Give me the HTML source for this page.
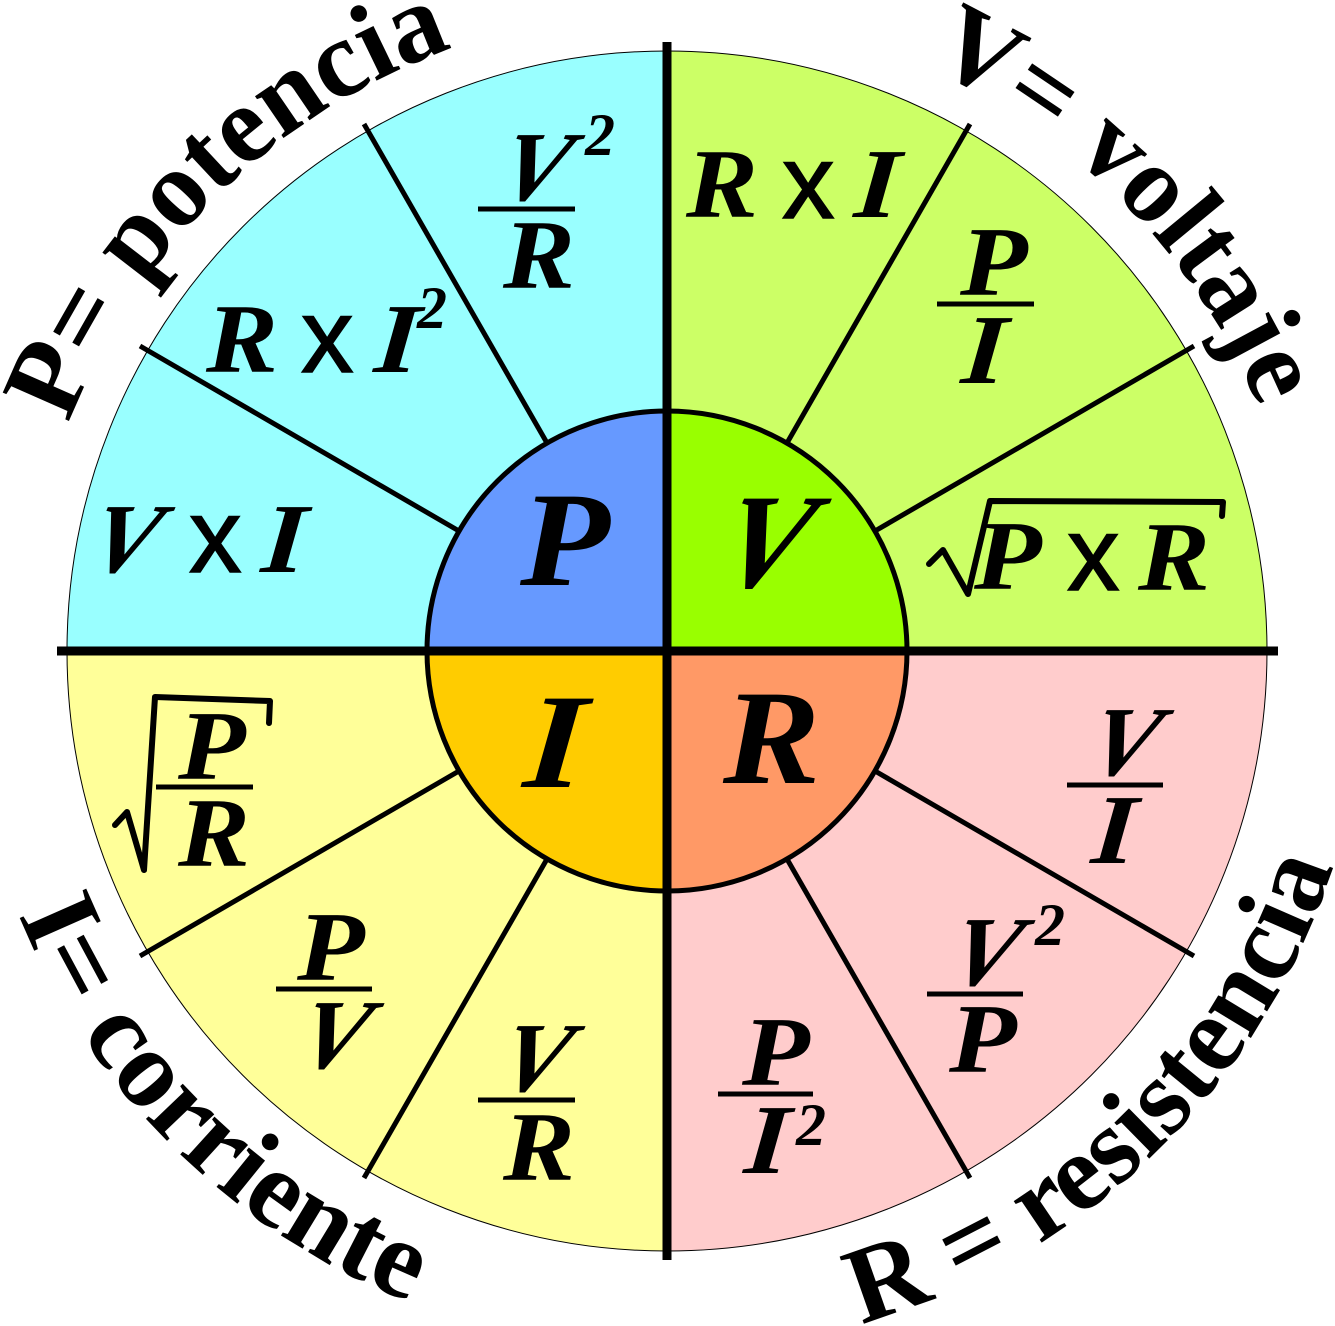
<!DOCTYPE html>
<html><head><meta charset="utf-8"><style>
html,body{margin:0;padding:0;background:#fff;width:1335px;height:1326px;overflow:hidden}
svg{display:block}
.f{font-family:"Liberation Serif",serif;font-weight:bold;font-style:italic;font-size:99px;fill:#000}
.s{font-family:"Liberation Serif",serif;font-weight:bold;font-style:italic;font-size:60px;fill:#000}
.b{font-family:"Liberation Serif",serif;font-weight:bold;font-style:italic;font-size:135px;fill:#000}
.x{font-family:"Liberation Sans",sans-serif;font-size:105px;fill:#000;stroke:#000;stroke-width:1.5}
.c{font-family:"Liberation Serif",serif;font-weight:bold;font-size:110px;fill:#000}
</style></head><body>
<svg width="1335" height="1326" viewBox="0 0 1335 1326" xmlns="http://www.w3.org/2000/svg">
<defs>
<path id="botL" d="M -33 651 A 700 700 0 0 0 667 1351" fill="none"/>
<path id="botR" d="M 667 1351 A 700 700 0 0 0 1367 651" fill="none"/>
<path id="tl" d="M 27 651 A 640 640 0 0 1 667 11" fill="none"/>
<path id="tr" d="M 667 11 A 640 640 0 0 1 1307 651" fill="none"/>
</defs>
<path d="M667 651 L67 651 A600 600 0 0 1 667 51 Z" fill="#99ffff"/>
<path d="M667 651 L667 51 A600 600 0 0 1 1267 651 Z" fill="#ccff66"/>
<path d="M667 651 L1267 651 A600 600 0 0 1 667 1251 Z" fill="#ffcccc"/>
<path d="M667 651 L667 1251 A600 600 0 0 1 67 651 Z" fill="#ffff99"/>
<circle cx="667" cy="651" r="600" fill="none" stroke="#000" stroke-width="1"/>
<g stroke="#000" stroke-width="5" fill="none">
<line x1="547" y1="443" x2="364" y2="124"/>
<line x1="459" y1="531" x2="140" y2="346"/>
<line x1="787" y1="443" x2="970" y2="124"/>
<line x1="875" y1="531" x2="1194" y2="346"/>
<line x1="459" y1="771" x2="140" y2="956"/>
<line x1="547" y1="859" x2="364" y2="1178"/>
<line x1="875" y1="771" x2="1194" y2="956"/>
<line x1="787" y1="859" x2="970" y2="1178"/>
</g>
<path d="M667 651 L427 651 A240 240 0 0 1 667 411 Z" fill="#6699ff"/>
<path d="M667 651 L667 411 A240 240 0 0 1 907 651 Z" fill="#99ff00"/>
<path d="M667 651 L907 651 A240 240 0 0 1 667 891 Z" fill="#ff9966"/>
<path d="M667 651 L667 891 A240 240 0 0 1 427 651 Z" fill="#ffcc00"/>
<circle cx="667" cy="651" r="240" fill="none" stroke="#000" stroke-width="5"/>
<line x1="667" y1="42" x2="667" y2="1260" stroke="#000" stroke-width="9"/>
<line x1="57" y1="651" x2="1278" y2="651" stroke="#000" stroke-width="9"/>

<text class="b" transform="translate(520 585) scale(1.09 1)">P</text>
<text class="b" transform="translate(712 587) skewX(-15) scale(.97 1)">V</text>
<text class="b" transform="translate(522 787) skewX(-4.5) scale(1.15 1)">I</text>
<text class="b" transform="translate(723 783) scale(1.08 1)">R</text>

<!-- P quadrant -->
<text class="f" transform="translate(494 200) skewX(-15) scale(1.02 1)">V</text><text class="s" x="585" y="155">2</text>
<line x1="478" y1="209" x2="575" y2="209" stroke="#000" stroke-width="5"/>
<text class="f" transform="translate(503 288) scale(1.09 1)">R</text>
<text class="f" transform="translate(206 372) scale(1.09 1)">R</text><text class="x" x="301" y="372">x</text><text class="f" transform="translate(373 372) skewX(-4.5) scale(1.15 1)">I</text><text class="s" x="417" y="328">2</text>
<text class="f" transform="translate(84 572) skewX(-15) scale(1.02 1)">V</text><text class="x" x="189" y="572">x</text><text class="f" transform="translate(260 572) skewX(-4.5) scale(1.15 1)">I</text>

<!-- V quadrant -->
<text class="f" transform="translate(686 217) scale(1.09 1)">R</text><text class="x" x="782" y="218">x</text><text class="f" transform="translate(853 217) skewX(-4.5) scale(1.15 1)">I</text>
<text class="f" transform="translate(960 295) scale(1.12 1)">P</text>
<line x1="937" y1="304" x2="1034" y2="304" stroke="#000" stroke-width="5"/>
<text class="f" transform="translate(960 383) skewX(-4.5) scale(1.15 1)">I</text>
<polyline points="929,564 943,550 968,594 990,501 1223,502 1222,516" fill="none" stroke="#000" stroke-width="6" stroke-linecap="round" stroke-linejoin="round"/>
<text class="f" transform="translate(974 589) scale(1.12 1)">P</text><text class="x" x="1067" y="590">x</text><text class="f" transform="translate(1138 590) scale(1.09 1)">R</text>

<!-- R quadrant -->
<text class="f" transform="translate(1083 775) skewX(-15) scale(1.02 1)">V</text>
<line x1="1067" y1="785" x2="1163" y2="785" stroke="#000" stroke-width="5"/>
<text class="f" transform="translate(1090 863) skewX(-4.5) scale(1.15 1)">I</text>
<text class="f" transform="translate(944 985) skewX(-15) scale(1.02 1)">V</text><text class="s" x="1035" y="945">2</text>
<line x1="927" y1="994" x2="1023" y2="994" stroke="#000" stroke-width="5"/>
<text class="f" transform="translate(949 1072) scale(1.12 1)">P</text>
<text class="f" transform="translate(742 1085) scale(1.12 1)">P</text>
<line x1="718" y1="1094" x2="813" y2="1094" stroke="#000" stroke-width="5"/>
<text class="f" transform="translate(743 1173) skewX(-4.5) scale(1.15 1)">I</text><text class="s" x="796" y="1145">2</text>

<!-- I quadrant -->
<polyline points="115,825 127,812 144,870 155,697 270,701 269,723" fill="none" stroke="#000" stroke-width="6" stroke-linecap="round" stroke-linejoin="round"/>
<text class="f" transform="translate(178 779) scale(1.12 1)">P</text>
<line x1="156" y1="787" x2="253" y2="787" stroke="#000" stroke-width="5"/>
<text class="f" transform="translate(178 866) scale(1.09 1)">R</text>
<text class="f" transform="translate(297 980) scale(1.12 1)">P</text>
<line x1="276" y1="989" x2="372" y2="989" stroke="#000" stroke-width="5"/>
<text class="f" transform="translate(293 1068) skewX(-15) scale(1.02 1)">V</text>
<text class="f" transform="translate(494 1091) skewX(-15) scale(1.02 1)">V</text>
<line x1="478" y1="1100" x2="575" y2="1100" stroke="#000" stroke-width="5"/>
<text class="f" transform="translate(503 1180) scale(1.09 1)">R</text>

<!-- Curved labels -->
<text class="c"><textPath href="#tl" startOffset="50.7%" text-anchor="middle">P= potencia</textPath></text>
<text class="c"><textPath href="#tr" startOffset="51%" text-anchor="middle">V= voltaje</textPath></text>
<text class="c" style="font-size:111px"><textPath href="#botL" startOffset="50.3%" text-anchor="middle">I= corriente</textPath></text>
<text class="c" style="font-size:109px"><textPath href="#botR" startOffset="49%" text-anchor="middle">R = resistencia</textPath></text>
</svg>
</body></html>
